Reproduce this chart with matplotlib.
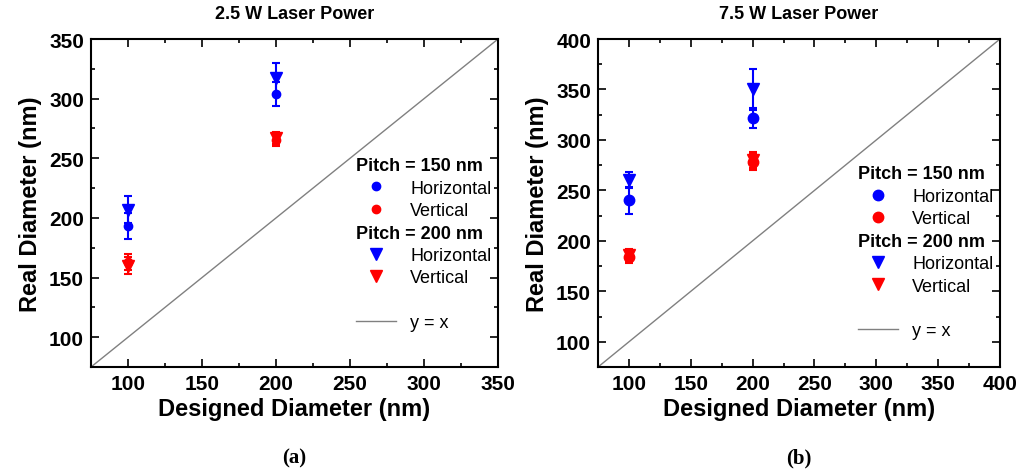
import matplotlib
matplotlib.use("Agg")
import matplotlib.pyplot as plt
from matplotlib.lines import Line2D

plt.rcParams['font.family'] = ['Liberation Sans', 'DejaVu Sans']

# designed diameters
designed = [100, 200]

# 2.5 W laser power
p25_h150 = [193, 304]
p25_h150_err = [11, 10]
p25_v150 = [163, 265]
p25_v150_err = [7, 5]
p25_h200 = [207, 317]
p25_h200_err = [11, 13]
p25_v200 = [160, 267]
p25_v200_err = [7, 5]

# 7.5 W laser power
p75_h150 = [240, 322]
p75_h150_err = [13, 10]
p75_v150 = [184, 278]
p75_v150_err = [6, 8]
p75_h200 = [260, 350]
p75_h200_err = [8, 20]
p75_v200 = [186, 280]
p75_v200_err = [6, 8]

titles = ["2.5 W Laser Power", "7.5 W Laser Power"]
panel_labels = ["(a)", "(b)"]
limits = [350, 400]

DPI = 100
fig = plt.figure(figsize=(10.32, 4.77), dpi=DPI)
ax_a = fig.add_axes([0.0882, 0.2285, 0.3944, 0.6876])
ax_b = fig.add_axes([0.5795, 0.2285, 0.3895, 0.6876])
ax_w_px = [407, 402]

datasets = [
    (p25_h150, p25_h150_err, p25_v150, p25_v150_err, p25_h200, p25_h200_err, p25_v200, p25_v200_err),
    (p75_h150, p75_h150_err, p75_v150, p75_v150_err, p75_h200, p75_h200_err, p75_v200, p75_v200_err),
]
msize_circle = [6, 7.5]

for k, (ax, d) in enumerate(zip([ax_a, ax_b], datasets)):
    h150, h150e, v150, v150e, h200, h200e, v200, v200e = d
    lim = limits[k]
    ms = msize_circle[k]
    eb = dict(capsize=3, elinewidth=1.5, capthick=1.5, linestyle='none')
    ax.errorbar(designed, v200, yerr=v200e, fmt='v', color='red', ms=8, **eb)
    ax.errorbar(designed, v150, yerr=v150e, fmt='o', color='red', ms=ms, **eb)
    ax.errorbar(designed, h200, yerr=h200e, fmt='v', color='blue', ms=8, **eb)
    ax.errorbar(designed, h150, yerr=h150e, fmt='o', color='blue', ms=ms, **eb)
    ax.plot([75, lim], [75, lim], color='#808080', lw=1)

    ax.set_xlim(75, lim)
    ax.set_ylim(75, lim)
    ax.set_xticks(range(100, lim + 1, 50))
    ax.set_yticks(range(100, lim + 1, 50))
    ax.set_xticks(range(75, lim + 1, 25), minor=True)
    ax.set_yticks(range(75, lim + 1, 25), minor=True)
    ax.tick_params(which='both', direction='in', top=True, right=True, width=1.2)
    ax.tick_params(which='major', length=6, labelsize=15, pad=5)
    ax.tick_params(which='minor', length=3)
    for lab in ax.get_xticklabels() + ax.get_yticklabels():
        lab.set_fontweight('bold')
    for sp in ax.spines.values():
        sp.set_linewidth(1.5)

    ax.set_xlabel("Designed Diameter (nm)", fontsize=17, fontweight='bold', labelpad=3)
    ax.set_ylabel("Real Diameter (nm)", fontsize=17, fontweight='bold', labelpad=5)
    ax.set_title(titles[k], fontsize=13, fontweight='bold', pad=15)
    ax.text(0.5, -0.275, panel_labels[k], transform=ax.transAxes, ha='center', va='center',
            fontsize=15, fontweight='bold', family='Liberation Serif')

    blank = Line2D([], [], linestyle='none')
    handles = [
        blank,
        Line2D([], [], marker='o', color='blue', linestyle='none', ms=ms),
        Line2D([], [], marker='o', color='red', linestyle='none', ms=ms),
        blank,
        Line2D([], [], marker='v', color='blue', linestyle='none', ms=8),
        Line2D([], [], marker='v', color='red', linestyle='none', ms=8),
        blank,
        Line2D([], [], color='#808080', lw=1),
    ]
    labels = ["Pitch = 150 nm", "Horizontal", "Vertical", "Pitch = 200 nm",
              "Horizontal", "Vertical", " ", "y = x"]
    hl, htp, fs = 2.2, 0.8, 13
    shift = (hl + htp) * fs * DPI / 72.0
    anchor_y = [0.645, 0.62][k]
    anchor_x = 0.99 + (shift - 9) / ax_w_px[k]
    leg = ax.legend(handles, labels, loc='upper right', bbox_to_anchor=(anchor_x, anchor_y),
                    frameon=False, fontsize=fs, handlelength=hl, handletextpad=htp,
                    labelspacing=0.3, borderaxespad=0.0, borderpad=0.1)
    for i in (0, 3):
        t = leg.get_texts()[i]
        t.set_fontweight('bold')
        t.set_position((-shift, 0))

fig.savefig("out.png", dpi=DPI)
